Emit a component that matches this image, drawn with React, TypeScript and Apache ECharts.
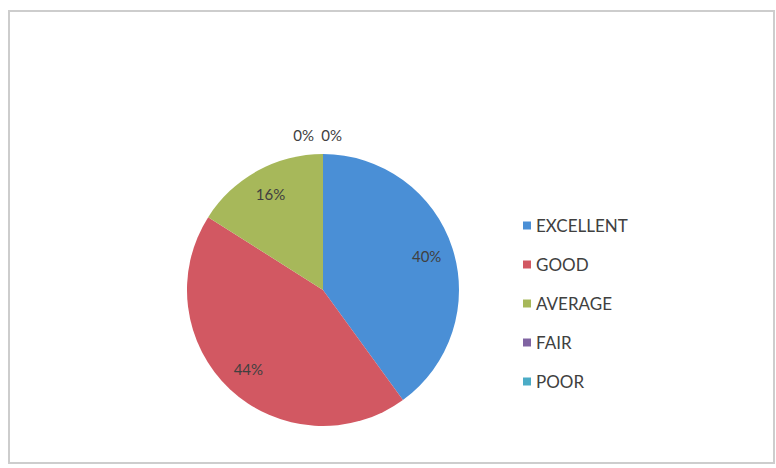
import React, { useEffect, useRef } from "react";
import * as echarts from "echarts";

const categories = ["EXCELLENT", "GOOD", "AVERAGE", "FAIR", "POOR"];
const values = [40, 44, 16, 0, 0];
const colors = ["#4a8fd6", "#d25862", "#a7b85a", "#8064a2", "#4bacc6"];

export default function App() {
  const ref = useRef<HTMLDivElement>(null);
  useEffect(() => {
    if (!ref.current) return;
    const chart = echarts.init(ref.current, null, { renderer: "svg" });
    const font = "Lato, 'Open Sans', sans-serif";
    const data = categories.map((name, i) => ({
      name,
      value: values[i],
      itemStyle: { color: colors[i] },
    }));
    chart.setOption({
      animation: false,
      backgroundColor: "#ffffff",
      graphic: [
        {
          type: "rect",
          shape: { x: 9, y: 11, width: 765, height: 452 },
          style: { fill: "none", stroke: "#cdcdcd", lineWidth: 2 },
          silent: true,
        },
      ],
      legend: {
        orient: "vertical",
        left: 518,
        top: 212,
        itemWidth: 8,
        itemHeight: 8,
        itemGap: 22,
        icon: "rect",
        data: categories,
        textStyle: { color: "#404040", fontSize: 17, fontFamily: font },
      },
      series: [
        {
          type: "pie",
          center: [323, 290],
          radius: [0, 136],
          startAngle: 90,
          clockwise: true,
          avoidLabelOverlap: false,
          stillShowZeroSum: true,
          label: { show: false },
          labelLine: { show: false },
          data,
        },
        {
          type: "pie",
          center: [323, 290],
          radius: [76, 136],
          startAngle: 90,
          clockwise: true,
          silent: true,
          avoidLabelOverlap: false,
          itemStyle: { color: "transparent", borderWidth: 0 },
          labelLine: { show: false },
          label: {
            show: true,
            position: "inside",
            formatter: "{c}%",
            color: "#404040",
            fontSize: 15,
            fontFamily: font,
          },
          data: categories.map((name, i) => ({
            name,
            value: values[i],
            itemStyle: { color: "transparent" },
            label:
              values[i] === 0
                ? {
                    position: "outside",
                    distance: 6,
                    offset: [i === 3 ? 26 : 54, -4],
                  }
                : undefined,
          })),
        },
      ],
    });
    return () => chart.dispose();
  }, []);
  return (
    <div
      ref={ref}
      style={{ position: "fixed", left: 0, top: 0, width: 776, height: 468 }}
    />
  );
}
